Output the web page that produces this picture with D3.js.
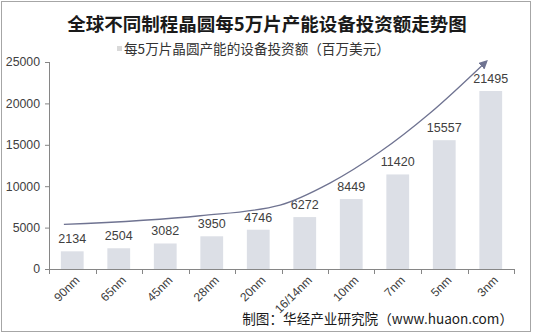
<!DOCTYPE html>
<html>
<head>
<meta charset="utf-8">
<script src="https://cdn.jsdelivr.net/npm/d3@7"></script>
<style>
html,body{margin:0;padding:0;background:#fff;}
svg{display:block;}
</style>
</head>
<body>
<svg id="chart" width="533" height="334"></svg>
<script>
// ---- data ----
const categories = ["90nm","65nm","45nm","28nm","20nm","16/14nm","10nm","7nm","5nm","3nm"];
const investment = [2134,2504,3082,3950,4746,6272,8449,11420,15557,21495];
const yTickValues = [0,5000,10000,15000,20000,25000];
// trend arrow path in data space: [category position (index units), value]
const trendIdx = [-0.18, 2.75, 4.47, 5.54, 6.62, 7.69, 8.91];
const trendVal = [5390, 6430, 7720, 10370, 14150, 18810, 25100];
const titleText = "全球不同制程晶圆每5万片产能设备投资额走势图";
const legendText = "每5万片晶圆产能的设备投资额（百万美元）";
const sourceText = "制图：华经产业研究院（www.huaon.com）";

(function(){
const svg = d3.select("#chart");
const W = 533, H = 334;
const mL = 49, mR = 514, mT = 62, mB = 269;

// frame
svg.append("rect").attr("x",1.5).attr("y",1.5).attr("width",W-4).attr("height",H-4)
  .attr("fill","#fff").attr("stroke","#a6a6a6").attr("stroke-width",1);

const x = d3.scaleBand().domain(categories).range([mL,mR]).paddingInner(0.51).paddingOuter(0.255);
const xi = d3.scaleLinear().domain([0,categories.length]).range([mL,mR]);
const y = d3.scaleLinear().domain([0,25000]).range([mB,mT]);

// title
svg.append("text").attr("x",267).attr("y",31).attr("text-anchor","middle")
  .attr("font-family","'Noto Sans CJK SC'").attr("font-weight","bold").attr("font-size","18.5px")
  .attr("fill","#1a1a1a").text(titleText);

// legend
svg.append("rect").attr("x",117).attr("y",46).attr("width",5).attr("height",5).attr("fill","#d9d9d9");
svg.append("text").attr("x",124).attr("y",54).attr("font-family","'Noto Sans CJK SC'")
  .attr("font-size","13.6px").attr("fill","#333").text(legendText);

// bars
svg.append("g").selectAll("rect").data(investment).join("rect")
  .attr("x",(d,i)=>x(categories[i])).attr("width",x.bandwidth())
  .attr("y",d=>y(d)).attr("height",d=>y(0)-y(d)).attr("fill","#dcdfe6");

// value labels
svg.append("g").selectAll("text").data(investment).join("text")
  .attr("x",(d,i)=>x(categories[i])+x.bandwidth()/2).attr("y",d=>y(d)-8)
  .attr("text-anchor","middle").attr("font-family","'Liberation Sans',Arial").attr("font-size","12.5px")
  .attr("fill","#404040").text(d=>d);

// y axis
const yAxis = svg.append("g").attr("transform",`translate(${mL},0)`)
  .call(d3.axisLeft(y).tickValues(yTickValues).tickSize(4).tickPadding(5).tickFormat(d3.format("d")));
yAxis.select(".domain").attr("stroke","#868686").attr("d",`M0.5,${mT}V${mB}`);
yAxis.selectAll(".tick line").attr("stroke","#868686");
yAxis.selectAll(".tick text").attr("font-family","'Liberation Sans',Arial").attr("font-size","12.3px").attr("fill","#404040");

// x axis line + boundary ticks
const xg = svg.append("g");
xg.append("line").attr("x1",mL).attr("x2",mR).attr("y1",mB+0.5).attr("y2",mB+0.5).attr("stroke","#868686");
xg.selectAll("line.t").data(d3.range(categories.length+1)).join("line").attr("class","t")
  .attr("x1",d=>Math.round(xi(d))+0.5).attr("x2",d=>Math.round(xi(d))+0.5)
  .attr("y1",mB).attr("y2",mB+5).attr("stroke","#868686");
xg.selectAll("text").data(categories).join("text")
  .attr("transform",d=>`translate(${x(d)+x.bandwidth()/2+5},${mB+9}) rotate(-45)`)
  .attr("text-anchor","end").attr("dy","0.35em")
  .attr("font-family","'Liberation Sans',Arial").attr("font-size","12px").attr("fill","#404040").text(d=>d);

// trend arrow
const step = x.step();
const tx = i => mL + step*(i+0.5);
svg.append("defs").append("marker").attr("id","arr").attr("viewBox","0 0 10 10")
  .attr("refX",8).attr("refY",5).attr("markerWidth",7).attr("markerHeight",7).attr("orient","auto")
  .append("path").attr("d","M0,0L10,5L0,10z").attr("fill","#6f7391");
const pts = trendIdx.map((t,i)=>[tx(t), y(trendVal[i])]);
svg.append("path").attr("d",d3.line().curve(d3.curveMonotoneX)(pts))
  .attr("fill","none").attr("stroke","#6f7391").attr("stroke-width",1.3).attr("marker-end","url(#arr)");

// source
svg.append("text").attr("x",513).attr("y",324).attr("text-anchor","end")
  .attr("font-family","'Noto Sans CJK SC'").attr("font-size","13.6px").attr("fill","#1a1a1a").text(sourceText);
})();
</script>
</body>
</html>
